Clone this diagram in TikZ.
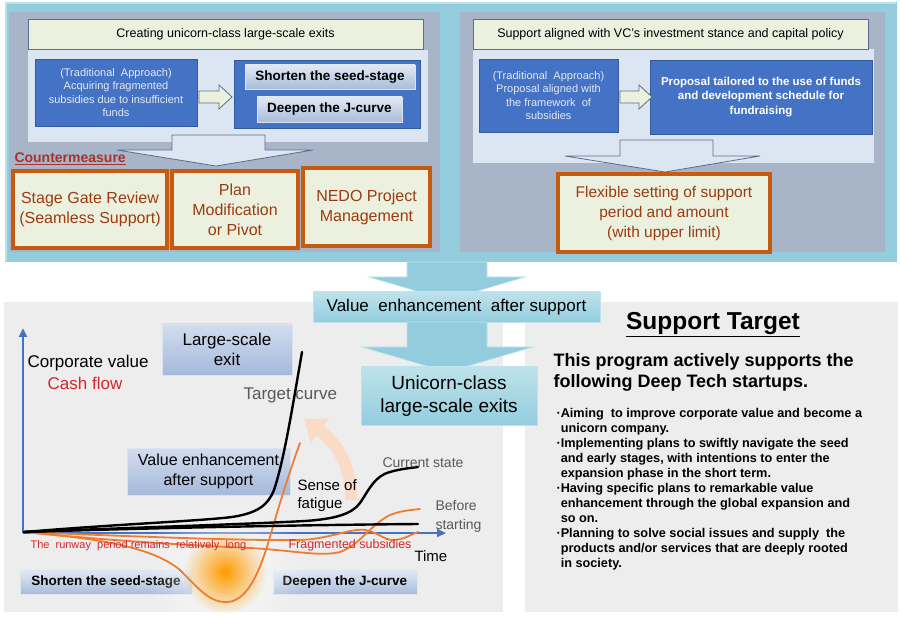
\documentclass[tikz,border=0pt]{standalone}
\usepackage{fontspec}
\setmainfont{Liberation Sans}
\usepackage{tikz}
\usetikzlibrary{arrows.meta, fadings}

\newcommand\fsz[2]{\fontsize{#1}{#2}\selectfont}

\definecolor{tealbg}{HTML}{93CDDD}
\definecolor{tealtop}{HTML}{BEE2EB}
\definecolor{graypanel}{HTML}{A8B4C8}
\definecolor{lightarea}{HTML}{DCE6F2}
\definecolor{titlefill}{HTML}{EBF1DE}
\definecolor{titleline}{HTML}{5A6E8C}
\definecolor{darkblue}{HTML}{4472C4}
\definecolor{tradtext}{HTML}{E4EAF4}
\definecolor{orangeedge}{HTML}{C55A11}
\definecolor{measuretext}{HTML}{9C3B10}
\definecolor{countercol}{HTML}{A8322A}
\definecolor{btntop}{HTML}{E2E9F4}
\definecolor{btnbot}{HTML}{A9BCD9}
\definecolor{charttop}{HTML}{D2DDEF}
\definecolor{chartbot}{HTML}{A5B9DA}
\definecolor{bggray}{HTML}{EDEDED}
\definecolor{jorange}{HTML}{ED7D31}
\definecolor{cashred}{HTML}{D0282D}
\definecolor{graytext}{HTML}{595959}
\definecolor{peach}{HTML}{FADCC6}
\definecolor{glow}{HTML}{FF9A00}

\tikzfading[name=glowfade, inner color=transparent!0, outer color=transparent!100]

\begin{document}
\begin{tikzpicture}[x=1pt, y=-1pt,
    titlebox/.style={draw=titleline, fill=titlefill, line width=0.8, minimum height=30, font=\fsz{12.5}{15}},
    tradbox/.style={draw=darkblue!80!black, fill=darkblue, line width=0.6, text=tradtext, align=center, font=\fsz{11}{13.5}},
    goalbox/.style={draw=darkblue!80!black, fill=darkblue, line width=0.6},
    btn/.style={draw=white!60!btnbot, top color=btntop, bottom color=btnbot, line width=0.6, inner sep=1, font=\bfseries\fsz{13.5}{16}},
    measure/.style={draw=orangeedge, fill=titlefill, line width=3.5, text=measuretext, align=center, font=\fsz{16}{20}},
    hollow/.style={draw=titleline, fill=lightarea, line width=0.8},
    bigarrow/.style={fill=tealbg, draw=tealtop, line width=0.6},
    tealbox/.style={draw=tealtop, top color=tealtop, bottom color=tealbg, line width=0.8, align=center},
    chartbox/.style={draw=white!60!chartbot, top color=charttop, bottom color=chartbot, line width=0.8, align=center},
    curve/.style={line width=2.4, line cap=round},
    thin curve/.style={jorange, line width=1.8, line cap=round},
    axis/.style={draw=darkblue, line width=2.5, -{Triangle[length=9pt, width=8pt]}}
]
\useasboundingbox (0,0) rectangle (900,620);

% upper panel
\fill[tealbg] (5,2) rectangle (897,262);
\draw[tealtop, line width=1.2] (6,261) -- (6,3) -- (896,3);
\fill[graypanel] (9,12) rectangle (440,252);
\fill[graypanel] (460,12) rectangle (885,252);
\fill[lightarea] (28,50) rectangle (428,142);
\fill[lightarea] (473,49) rectangle (874,163);

% left half
\node[titlebox, minimum width=395] (titleL) at (225.5,34.5) {Creating unicorn-class large-scale exits};
\node[tradbox, minimum width=162, minimum height=67] (tradL) at (116,92.5)
    {(Traditional\ \ Approach)\\Acquiring fragmented\\subsidies due to insufficient\\funds};
\node[goalbox, minimum width=186, minimum height=68] (goalL) at (327,94) {};
\node[btn, minimum width=170, minimum height=24] (seedL) at (330,77) {Shorten the seed-stage};
\node[btn, minimum width=145, minimum height=25] (jcurveL) at (329.5,109.5) {Deepen the J-curve};
\draw[hollow, fill=titlefill] (199,91) -- (219,91) -- (219,85) -- (232,97) -- (219,109) -- (219,103) -- (199,103) -- cycle;
\draw[hollow] (172,135) -- (265,135) -- (265,150) -- (313,150) -- (216,166) -- (117,150) -- (172,150) -- cycle;
\node[anchor=west, text=countercol, font=\bfseries\fsz{14}{16}] (counter) at (11,159) {\underline{Countermeasure}};
\node[measure, minimum width=154, minimum height=77] (gate) at (90,209.5) {Stage Gate Review\\(Seamless Support)};
\node[measure, minimum width=126, minimum height=77] (pivot) at (235,209.5) {Plan\\Modification\\or Pivot};
\node[measure, minimum width=127, minimum height=78] (nedo) at (366.5,207) {NEDO Project\\Management};

% right half
\node[titlebox, minimum width=395] (titleR) at (670.5,34) {Support aligned with VC's investment stance and capital policy};
\node[tradbox, minimum width=139, minimum height=73] (tradR) at (548.5,95.5)
    {(Traditional\ \ Approach)\\Proposal aligned with\\the framework\ \ of\\subsidies};
\node[goalbox, minimum width=222, minimum height=74, text=white, align=center, font=\bfseries\fsz{11.5}{14.5}] (goalR) at (761,97)
    {Proposal tailored to the use of funds\\and development schedule for\\fundraising};
\draw[hollow, fill=titlefill] (620,91) -- (639,91) -- (639,85) -- (652,97) -- (639,109) -- (639,103) -- (620,103) -- cycle;
\draw[hollow] (620,140) -- (713,140) -- (713,156) -- (760,156) -- (665,172) -- (565,156) -- (620,156) -- cycle;
\node[measure, minimum width=212, minimum height=78, font=\fsz{15.5}{20}] (flex) at (664,213)
    {Flexible setting of support\\period and amount\\(with upper limit)};

% lower panels
\fill[bggray] (4,302) rectangle (503,612);
\fill[bggray] (525,302) rectangle (898,612);

% middle arrows
\draw[bigarrow] (407,262) -- (487,262) -- (487,277) -- (525,277) -- (447,300) -- (369,277) -- (407,277) -- cycle;
\node[tealbox, minimum width=287, minimum height=30, font=\fsz{17}{20}] (value) at (456.5,307) {Value\ \ enhancement\ \ after support};
\draw[bigarrow] (407,322) -- (487,322) -- (487,347) -- (533,347) -- (447,372) -- (362,347) -- (407,347) -- cycle;
\node[tealbox, minimum width=176, minimum height=58, font=\fsz{19}{23}] (unicorn) at (449,396) {Unicorn-class\\large-scale exits};

% chart
\coordinate (origin) at (23,533);
\coordinate (ytip) at (23,328);
\coordinate (xtip) at (446,533);
\draw[axis] (origin) -- (ytip);
\draw[axis] (origin) -- (xtip);

\node[chartbox, minimum width=130, minimum height=51, font=\fsz{17}{20}] (exit) at (227,349.5) {Large-scale\\exit};
\node[chartbox, minimum width=163, minimum height=47, font=\fsz{16}{20}] (after) at (208.5,471.5) {Value enhancement\\after support};
\node[btn, minimum width=172, minimum height=24] (seed) at (106,582) {Shorten the seed-stage};
\node[btn, minimum width=144, minimum height=24] (jcurve) at (345,582) {Deepen the J-curve};

\fill[white, fill opacity=0.7, path fading=glowfade] (225,572) circle (80pt);
\fill[glow, path fading=glowfade] (225,572) circle (42pt);

\draw[line width=12, draw=peach, -{Triangle[length=20pt, width=30pt]}] (351,500) .. controls (352,468) and (338,444) .. (304,419);

\draw[thin curve] (24,532) .. controls (100,540) and (200,546) .. (250,548) .. controls (290,550) and (320,557) .. (340,552)
    .. controls (360,545) and (370,525) .. (390,515) .. controls (400,511) and (410,510) .. (420,509);
\draw[thin curve] (24,532) .. controls (120,536) and (250,541) .. (300,540) .. controls (330,539) and (350,528) .. (365,530)
    .. controls (378,532) and (385,541) .. (395,540) .. controls (405,539) and (412,534) .. (418,532);
\draw[thin curve] (24,532) .. controls (90,538) and (150,545) .. (180,570) .. controls (200,590) and (210,603) .. (228,602)
    .. controls (250,600) and (262,565) .. (272,530) .. controls (282,495) and (293,462) .. (300,443);

\draw[curve] (24,532) .. controls (150,528) and (300,525) .. (418,524);
\draw[curve] (24,532) .. controls (150,527) and (250,524) .. (305,521) .. controls (335,519) and (352,514) .. (360,503)
    .. controls (370,488) and (375,476) .. (390,472) .. controls (400,469) and (410,468) .. (418,467);
\draw[curve] (24,532) .. controls (120,524) and (200,521) .. (232,517) .. controls (258,513) and (268,505) .. (274,490)
    .. controls (284,460) and (292,410) .. (302,352);

\node[anchor=west, font=\fsz{17}{20}] (corp) at (24,363) {Corporate value};
\node[text=cashred, font=\fsz{17}{20}] (cash) at (85,383) {Cash flow};
\node[anchor=west, text=graytext, font=\fsz{17}{20}] (target) at (240,395) {Target curve};
\node[anchor=north west, align=left, font=\fsz{15}{18}] (fatigue) at (294,476) {Sense of\\fatigue};
\node[anchor=west, text=graytext, font=\fsz{14}{17}] (current) at (379,463) {Current state};
\node[anchor=west, align=left, text=graytext, font=\fsz{14}{19}] (before) at (432,516) {Before\\starting};
\node[anchor=west, text=cashred, font=\fsz{11}{13}] (runway) at (27,546) {The\ \ runway\ \ period remains\ \ relatively\ \ long};
\node[anchor=west, text=cashred, font=\fsz{12.5}{15}] (frag) at (285,545) {Fragmented subsidies};
\node[anchor=west, font=\fsz{15}{18}] (time) at (411,556) {Time};

% support target
\node[font=\bfseries\fsz{24.5}{28}] (targethead) at (713,325) {\underline{Support Target}};
\node[anchor=north west, align=left, font=\bfseries\fsz{18}{20.5}] (intro) at (550,350)
    {This program actively supports the\\following Deep Tech startups.};
\node[anchor=north west, align=left, font=\bfseries\fsz{12.7}{15}] (bullets) at (553,405)
    {\textperiodcentered Aiming\ \ to improve corporate value and become a\\
     \hphantom{\textperiodcentered}unicorn company.\\
     \textperiodcentered Implementing plans to swiftly navigate the seed\\
     \hphantom{\textperiodcentered}and early stages, with intentions to enter the\\
     \hphantom{\textperiodcentered}expansion phase in the short term.\\
     \textperiodcentered Having specific plans to remarkable value\\
     \hphantom{\textperiodcentered}enhancement through the global expansion and\\
     \hphantom{\textperiodcentered}so on.\\
     \textperiodcentered Planning to solve social issues and supply\ \ the\\
     \hphantom{\textperiodcentered}products and/or services that are deeply rooted\\
     \hphantom{\textperiodcentered}in society.};

\end{tikzpicture}
\end{document}
